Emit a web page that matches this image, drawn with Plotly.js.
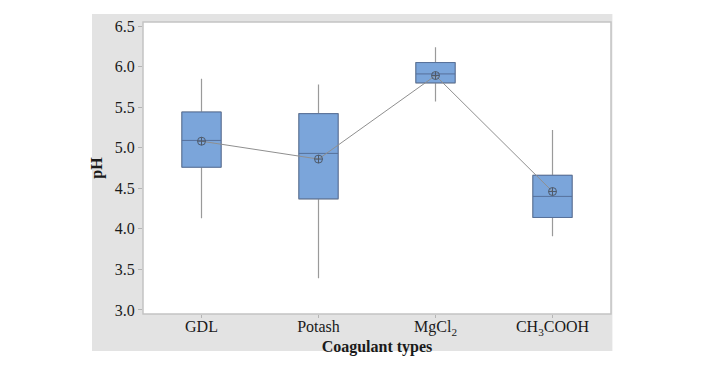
<!DOCTYPE html>
<html>
<head>
<meta charset="utf-8">
<script src="https://cdn.plot.ly/plotly-3.0.1.min.js"></script>
<style>html,body{margin:0;padding:0;background:#fff}#chart{width:706px;height:367px}</style>
</head>
<body>
<div id="chart"></div>
<script>
const categories = ["GDL", "Potash", "MgCl<sub>2</sub>", "CH<sub>3</sub>COOH"];
const upperWhisker = [5.85, 5.78, 6.24, 5.22];
const q3Values = [5.44, 5.42, 6.05, 4.66];
const medianValues = [5.09, 4.93, 5.91, 4.40];
const q1Values = [4.76, 4.37, 5.80, 4.14];
const lowerWhisker = [4.13, 3.39, 5.57, 3.91];
const meanValues = [5.08, 4.86, 5.89, 4.46];
const yTicks = [3.0, 3.5, 4.0, 4.5, 5.0, 5.5, 6.0, 6.5];

const pos = categories.map((c, i) => i);

// whiskers (gray)
const whiskerTrace = {
  type: 'box',
  x: pos,
  q1: q1Values,
  median: medianValues,
  q3: q3Values,
  lowerfence: lowerWhisker,
  upperfence: upperWhisker,
  width: 0.335,
  whiskerwidth: 0,
  fillcolor: 'rgba(0,0,0,0)',
  line: {color: '#9a9a9a', width: 1.2},
  boxpoints: false,
  hoverinfo: 'skip',
  showlegend: false
};

// boxes (blue, outline)
const boxTrace = {
  type: 'box',
  x: pos,
  q1: q1Values,
  median: medianValues,
  q3: q3Values,
  lowerfence: q1Values,
  upperfence: q3Values,
  width: 0.335,
  whiskerwidth: 0,
  fillcolor: '#7ba5da',
  line: {color: '#56709a', width: 1},
  boxpoints: false,
  hoverinfo: 'skip',
  showlegend: false
};

const meanTrace = {
  type: 'scatter',
  mode: 'lines+markers',
  x: pos,
  y: meanValues,
  line: {color: '#8f8f8f', width: 1},
  marker: {symbol: 'circle-cross-open', size: 8, color: '#4f5a6a', line: {width: 1}},
  showlegend: false,
  hoverinfo: 'skip'
};

const font = {family: '"Liberation Serif", "Times New Roman", serif', color: '#1a1a1a', size: 16};

const layout = {
  width: 706, height: 367,
  margin: {l: 143, r: 95, t: 22, b: 53},
  paper_bgcolor: '#ffffff',
  plot_bgcolor: 'rgba(0,0,0,0)',
  font: font,
  showlegend: false,
  boxmode: 'overlay',
  shapes: [
    {type: 'rect', xref: 'paper', yref: 'paper', x0: -0.109, x1: 1.003, y0: -0.127, y1: 1.027,
     fillcolor: '#e3e3e3', line: {width: 0}, layer: 'below'},
    {type: 'rect', xref: 'paper', yref: 'paper', x0: 0, x1: 1, y0: 0, y1: 1,
     fillcolor: '#ffffff', line: {color: '#c4c4c4', width: 1.5}, layer: 'below'}
  ],
  xaxis: {
    range: [-0.5, 3.5],
    tickvals: pos,
    ticktext: categories,
    showgrid: false, zeroline: false,
    showline: false,
    ticks: 'outside', ticklen: 3, tickcolor: '#b5b5b5',
    ticklabelstandoff: -5,
    tickfont: font,
    title: {text: '<b>Coagulant types</b>', font: font, standoff: 0}
  },
  yaxis: {
    range: [2.95, 6.55],
    tickvals: yTicks,
    tickformat: '.1f',
    showgrid: false, zeroline: false,
    showline: false,
    ticks: 'outside', ticklen: 4, tickcolor: '#b5b5b5',
    tickfont: font,
    title: {text: '<b>pH</b>', font: font, standoff: 8}
  }
};

Plotly.newPlot('chart', [whiskerTrace, boxTrace, meanTrace], layout, {displayModeBar: false, staticPlot: true});
</script>
</body>
</html>
